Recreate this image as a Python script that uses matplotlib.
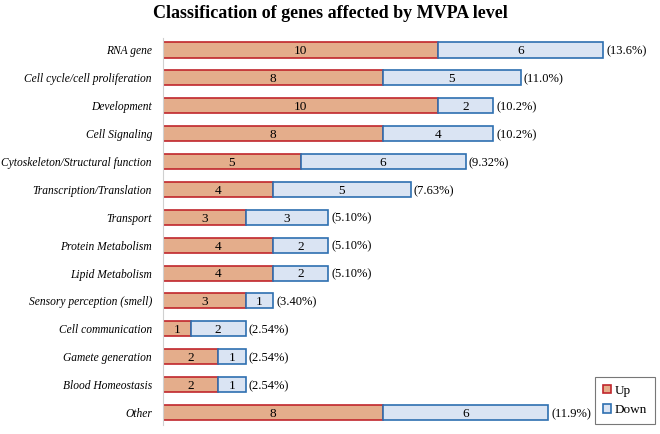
import matplotlib.pyplot as plt
from matplotlib.patches import Patch

categories = ["RNA gene", "Cell cycle/cell proliferation", "Development", "Cell Signaling",
              "Cytoskeleton/Structural function", "Transcription/Translation", "Transport",
              "Protein Metabolism", "Lipid Metabolism", "Sensory perception (smell)",
              "Cell communication", "Gamete generation", "Blood Homeostasis", "Other"]
up = [10, 8, 10, 8, 5, 4, 3, 4, 4, 3, 1, 2, 2, 8]
down = [6, 5, 2, 4, 6, 5, 3, 2, 2, 1, 2, 1, 1, 6]
pct = ["(13.6%)", "(11.0%)", "(10.2%)", "(10.2%)", "(9.32%)", "(7.63%)", "(5.10%)",
       "(5.10%)", "(5.10%)", "(3.40%)", "(2.54%)", "(2.54%)", "(2.54%)", "(11.9%)"]

plt.rcParams['font.family'] = ['Liberation Serif', 'DejaVu Serif']

up_fc, up_ec = "#E4AD8B", "#C0262C"
dn_fc, dn_ec = "#DAE4F3", "#2E6FB0"

fig = plt.figure(figsize=(6.6, 4.34), dpi=100)
ax = fig.add_axes([163/660, 1-425/434, 495/660, 387/434])

y = list(range(len(categories)))
h = 0.54
ax.barh(y, up, height=h, color=up_fc, edgecolor=up_ec, linewidth=1.2)
ax.barh(y, down, left=up, height=h, color=dn_fc, edgecolor=dn_ec, linewidth=1.2)

dy = 0.05  # nudge text down a bit so digits sit in the middle of the bar
for i in y:
    ax.text(up[i]/2, i + dy, str(up[i]), ha="center", va="center", fontsize=9.5)
    ax.text(up[i] + down[i]/2, i + dy, str(down[i]), ha="center", va="center", fontsize=9.5)
    ax.text(up[i] + down[i] + 0.12, i + dy, pct[i], ha="left", va="center", fontsize=9)

ax.set_xlim(0, 18)
ax.set_ylim(13.45, -0.43)
ax.set_yticks(y)
ax.set_yticklabels(categories, fontstyle="italic", fontsize=8.3)
ax.tick_params(axis="y", length=0, pad=8)
ax.set_xticks([])
for s in ["top", "right", "bottom"]:
    ax.spines[s].set_visible(False)
ax.spines["left"].set_color("#D0D0D0")

handles = [Patch(facecolor=up_fc, edgecolor=up_ec, linewidth=1.2, label="Up"),
           Patch(facecolor=dn_fc, edgecolor=dn_ec, linewidth=1.2, label="Down")]
leg = fig.legend(handles=handles, loc="lower right", bbox_to_anchor=(655/660, 1-424/434),
                 borderaxespad=0, fontsize=9.5, frameon=True, fancybox=False,
                 handlelength=0.6, handleheight=0.6,
                 handletextpad=0.3, borderpad=0.6, labelspacing=0.55)
leg.get_frame().set_edgecolor("#555555")
leg.get_frame().set_linewidth(0.8)

fig.text(0.5, 1-13/434, "Classification of genes affected by MVPA level", ha="center", va="center",
         fontsize=13, fontweight="bold")

fig.savefig("out.png", dpi=100)
